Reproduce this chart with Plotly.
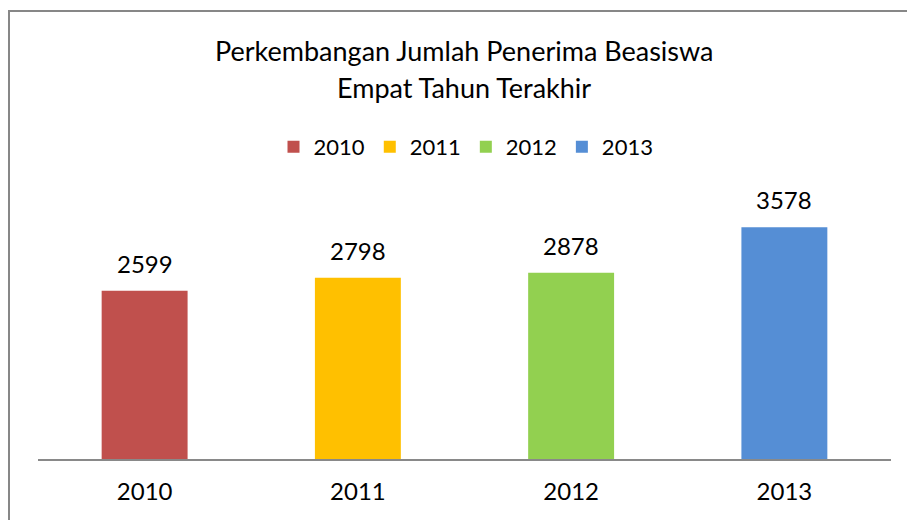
import plotly.graph_objects as go

categories = ["2010", "2011", "2012", "2013"]
values = [2599, 2798, 2878, 3578]
colors = ["#C0504D", "#FFC000", "#92D050", "#558ED5"]
title_lines = ["Perkembangan Jumlah Penerima Beasiswa", "Empat Tahun Terakhir"]

FONT = "Lato"
W, H = 907, 521
# plot area in window pixels: x 38..891, y 200..459
PL, PR, PT, PB = 38, 891, 200, 459
PW = PR - PL
PH = PB - PT
ML, MR, MT, MB = PL, W - PR, PT, H - PB


def px_x(p):
    return (p - PL) / PW


def px_y(p):
    return (PB - p) / PH


fig = go.Figure()
for cat, val, col in zip(categories, values, colors):
    fig.add_trace(go.Bar(
        x=[cat], y=[val], name=cat, marker=dict(color=col, line=dict(width=0)),
        width=0.403, hoverinfo="x+y",
    ))

annotations = []
for i, val in enumerate(values):
    annotations.append(dict(
        x=i, y=val, xref="x", yref="y", text=str(val), showarrow=False,
        yanchor="middle", yshift=27.5, font=dict(family=FONT, size=24, color="#000000"),
    ))
for line, ypix in zip(title_lines, [50, 87]):
    annotations.append(dict(
        x=px_x(464), y=px_y(ypix), xref="paper", yref="paper", text=line,
        showarrow=False, xanchor="center", yanchor="middle",
        font=dict(family=FONT, size=27, color="#000000"),
    ))

border = dict(color="#878787", width=2)
fig.update_layout(
    width=W, height=H,
    margin=dict(l=ML, r=MR, t=MT, b=MB, pad=0),
    paper_bgcolor="#FFFFFF", plot_bgcolor="#FFFFFF",
    barmode="overlay",
    showlegend=True,
    legend=dict(
        orientation="h", x=px_x(466), xanchor="center", y=px_y(147), yanchor="middle",
        font=dict(family=FONT, size=22, color="#000000"), bgcolor="rgba(0,0,0,0)",
        itemclick=False, itemdoubleclick=False,
    ),
    xaxis=dict(
        type="category", categoryorder="array", categoryarray=categories,
        range=[-0.5, len(categories) - 0.5], autorange=False,
        showline=True, linecolor="#898989", linewidth=2,
        showgrid=False, ticks="", tickfont=dict(family=FONT, size=24, color="#000000"),
        ticklabelstandoff=10, zeroline=False,
    ),
    yaxis=dict(range=[0, 4000], autorange=False, visible=False, showgrid=False, zeroline=False),
    annotations=annotations,
    shapes=[
        dict(type="line", xref="paper", yref="paper",
             x0=px_x(9), y0=px_y(10), x1=px_x(9), y1=px_y(520), line=border, layer="below"),
        dict(type="line", xref="paper", yref="paper",
             x0=px_x(8), y0=px_y(11), x1=px_x(907), y1=px_y(11), line=border, layer="below"),
    ],
)

fig.write_html(
    "out.html",
    config={"displayModeBar": False},
    post_script="document.body.style.margin='0';document.body.style.overflow='hidden';"
                "document.documentElement.style.overflow='hidden';",
)
